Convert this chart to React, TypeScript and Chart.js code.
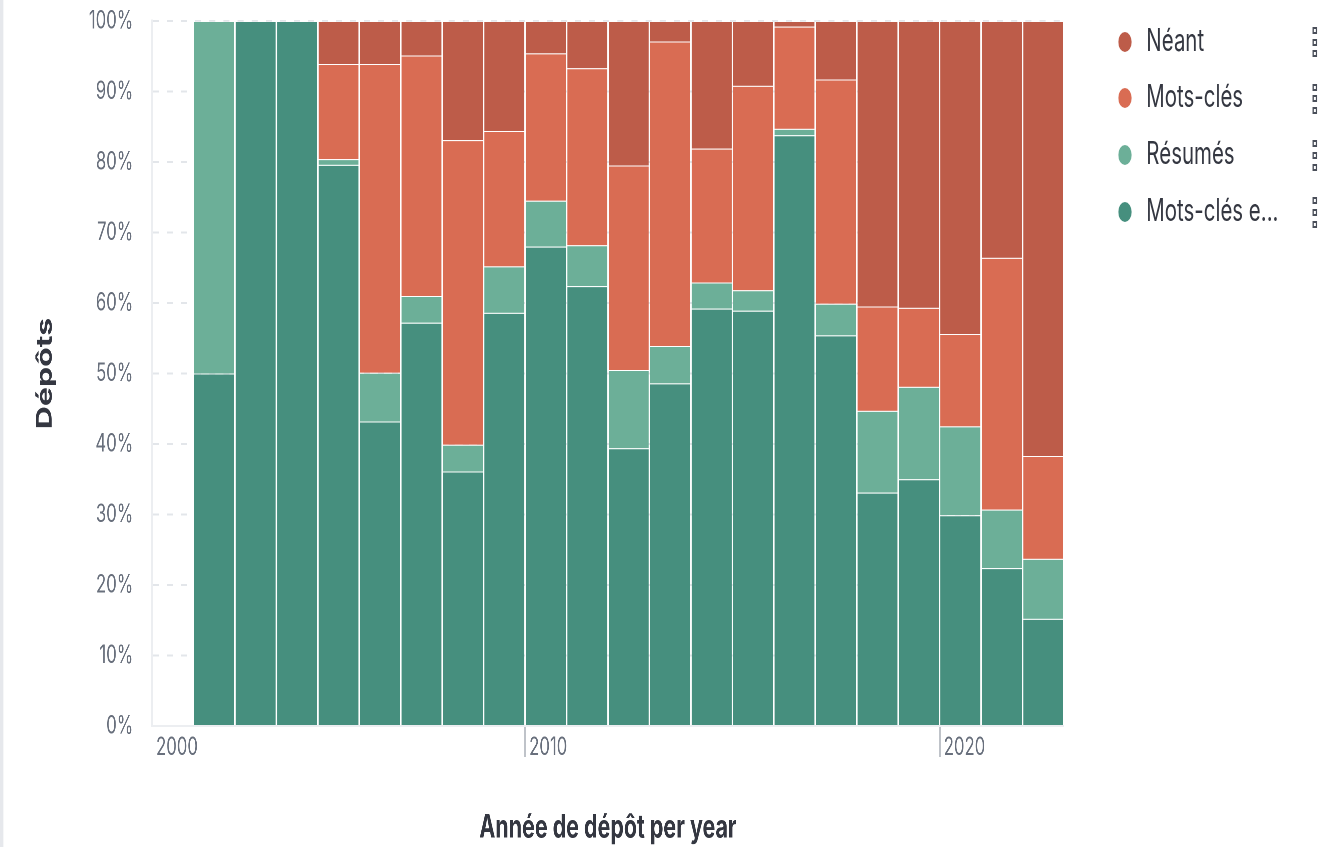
import React, { useEffect, useRef } from "react";
import { Chart, registerables } from "chart.js";

Chart.register(...registerables);

// ---------- data ----------
const years = [2002, 2003, 2004, 2005, 2006, 2007, 2008, 2009, 2010, 2011, 2012, 2013, 2014, 2015, 2016, 2017, 2018, 2019, 2020, 2021, 2022];
const motsClesEtResumes = [50, 100, 100, 79.6, 43.2, 57.2, 36.1, 58.6, 68.0, 62.4, 39.4, 48.6, 59.2, 58.9, 83.8, 55.4, 33.1, 35.0, 29.9, 22.4, 15.2];
const resumes = [50, 0, 0, 0.8, 6.9, 3.8, 3.8, 6.6, 6.5, 5.8, 11.1, 5.3, 3.7, 2.9, 0.9, 4.5, 11.6, 13.1, 12.6, 8.3, 8.5];
const motsCles = [0, 0, 0, 13.5, 43.8, 34.1, 43.2, 19.2, 20.9, 25.1, 29.0, 43.2, 19.0, 29.0, 14.5, 31.8, 14.8, 11.2, 13.1, 35.7, 14.6];
const neant = [0, 0, 0, 6.1, 6.1, 4.9, 16.9, 15.6, 4.6, 6.7, 20.5, 2.9, 18.1, 9.2, 0.8, 8.3, 40.5, 40.7, 44.4, 33.6, 61.7];
const seriesNames = ["Mots-clés et résumés", "Résumés", "Mots-clés", "Néant"];
const legendLabels = ["Néant", "Mots-clés", "Résumés", "Mots-clés e..."];
const xTickValues = [2001, 2010, 2020];
const xTickLabels = ["2000", "2010", "2020"];
const yTickStep = 10;

// ---------- styling ----------
const COLORS = ["#468f7e", "#6caf98", "#d96c53", "#bd5c49"];
const LEGEND_COLORS = ["#bd5c49", "#d96c53", "#6caf98", "#468f7e"];
const SX = 0.67; // horizontal compression of the reference
const W = Math.round(1332 / SX);
const H = 847;
const PLOT_LEFT = 152 / SX;
const PLOT_RIGHT = 1064 / SX;
const PLOT_TOP = 21;
const PLOT_BOTTOM = 726;
const FONT = "Inter, 'Noto Sans', sans-serif";

export default function App() {
  const ref = useRef<HTMLCanvasElement>(null);

  useEffect(() => {
    const mk = (arr: number[]) => years.map((y, i) => ({ x: y + 0.5, y: arr[i] }));
    const series = [motsClesEtResumes, resumes, motsCles, neant];
    const chart = new Chart(ref.current as HTMLCanvasElement, {
      type: "bar",
      data: {
        datasets: series.map((arr, k) => ({
          label: seriesNames[k],
          data: mk(arr),
          backgroundColor: COLORS[k],
          borderWidth: { top: 1, bottom: 0, left: 0, right: 0 },
          borderColor: "rgba(255,255,255,0.3)",
          borderSkipped: false,
          barPercentage: 1,
          categoryPercentage: 0.965,
        })),
      },
      options: {
        animation: false,
        responsive: false,
        devicePixelRatio: 2,
        layout: { padding: { left: 0, top: PLOT_TOP, right: W - PLOT_RIGHT, bottom: 0 } },
        plugins: { legend: { display: false }, tooltip: { enabled: false } },
        scales: {
          x: {
            type: "linear",
            min: 2001,
            max: 2023,
            stacked: true,
            offset: false,
            afterBuildTicks: (s: any) => {
              s.ticks = xTickValues.map((v) => ({ value: v }));
            },
            afterFit: (s: any) => {
              s.height = H - PLOT_BOTTOM;
              s.paddingLeft = 0;
              s.paddingRight = 0;
            },
            grid: {
              display: true,
              offset: false,
              drawOnChartArea: false,
              drawTicks: true,
              tickLength: 31,
              tickWidth: 3,
              tickColor: (ctx: any) => (ctx.tick && ctx.tick.value === xTickValues[0] ? "rgba(0,0,0,0)" : "#bfc3c9"),
            },
            border: { display: true, color: "#eceef1", width: 2 },
            ticks: {
              align: "start",
              labelOffset: 6,
              padding: -24.5,
              autoSkip: false,
              maxRotation: 0,
              font: { family: FONT, size: 25 },
              color: "#69707d",
              callback: (_v: any, i: number) => xTickLabels[i],
            },
            title: {
              display: true,
              text: "Année de dépôt per year",
              font: { family: FONT, size: 32, weight: "bold" },
              color: "#343741",
              padding: { top: 0, bottom: 0 },
            },
          } as any,
          y: {
            min: 0,
            max: 100,
            stacked: true,
            afterFit: (s: any) => {
              s.width = PLOT_LEFT;
              s.paddingTop = 0;
              s.paddingBottom = 0;
            },
            ticks: {
              stepSize: yTickStep,
              padding: 28,
              font: { family: FONT, size: 25 },
              color: "#69707d",
              callback: (v: any) => `${v}%`,
            },
            grid: { drawTicks: false, color: "#e3e6ea", lineWidth: 2 },
            border: { display: true, color: "#eceef1", width: 3, dash: [9, 12] },
            title: {
              display: true,
              text: "Dépôts",
              font: { family: FONT, size: 32, weight: "bold" },
              color: "#343741",
              padding: { top: 48, bottom: 0 },
            },
          } as any,
        },
      },
    });
    return () => chart.destroy();
  }, []);

  return (
    <div style={{ position: "absolute", left: 0, top: 0, width: 1332, height: 847, overflow: "hidden", background: "#fff" }}>
      <div style={{ position: "absolute", left: 0, top: 0, width: W, height: H, transform: `scaleX(${SX})`, transformOrigin: "0 0" }}>
        <div style={{ position: "absolute", left: 0, top: 0, width: 4.5, height: H, background: "#e6e8ec" }} />
        <canvas ref={ref} width={W} height={H} style={{ position: "absolute", left: 0, top: 0, width: W, height: H }} />
        {legendLabels.map((name, i) => {
          const cy = 39.5 + i * 56.8;
          return (
            <React.Fragment key={name}>
              <div style={{ position: "absolute", left: 1669, top: cy + 2 - 10, width: 20, height: 20, borderRadius: "50%", background: LEGEND_COLORS[i] }} />
              <div style={{ position: "absolute", left: 1711, top: cy - 20, height: 40, lineHeight: "40px", fontFamily: FONT, fontSize: 30.5, color: "#343741", whiteSpace: "nowrap" }}>{name}</div>
              {[-11.7, 0, 11.7].map((dy) => (
                <div key={dy} style={{ position: "absolute", left: 1959, top: cy + 2.5 + dy - 3.5, width: 7, height: 7, border: "2px solid #4a4f5a", boxSizing: "border-box", background: "#fff" }} />
              ))}
            </React.Fragment>
          );
        })}
      </div>
    </div>
  );
}
